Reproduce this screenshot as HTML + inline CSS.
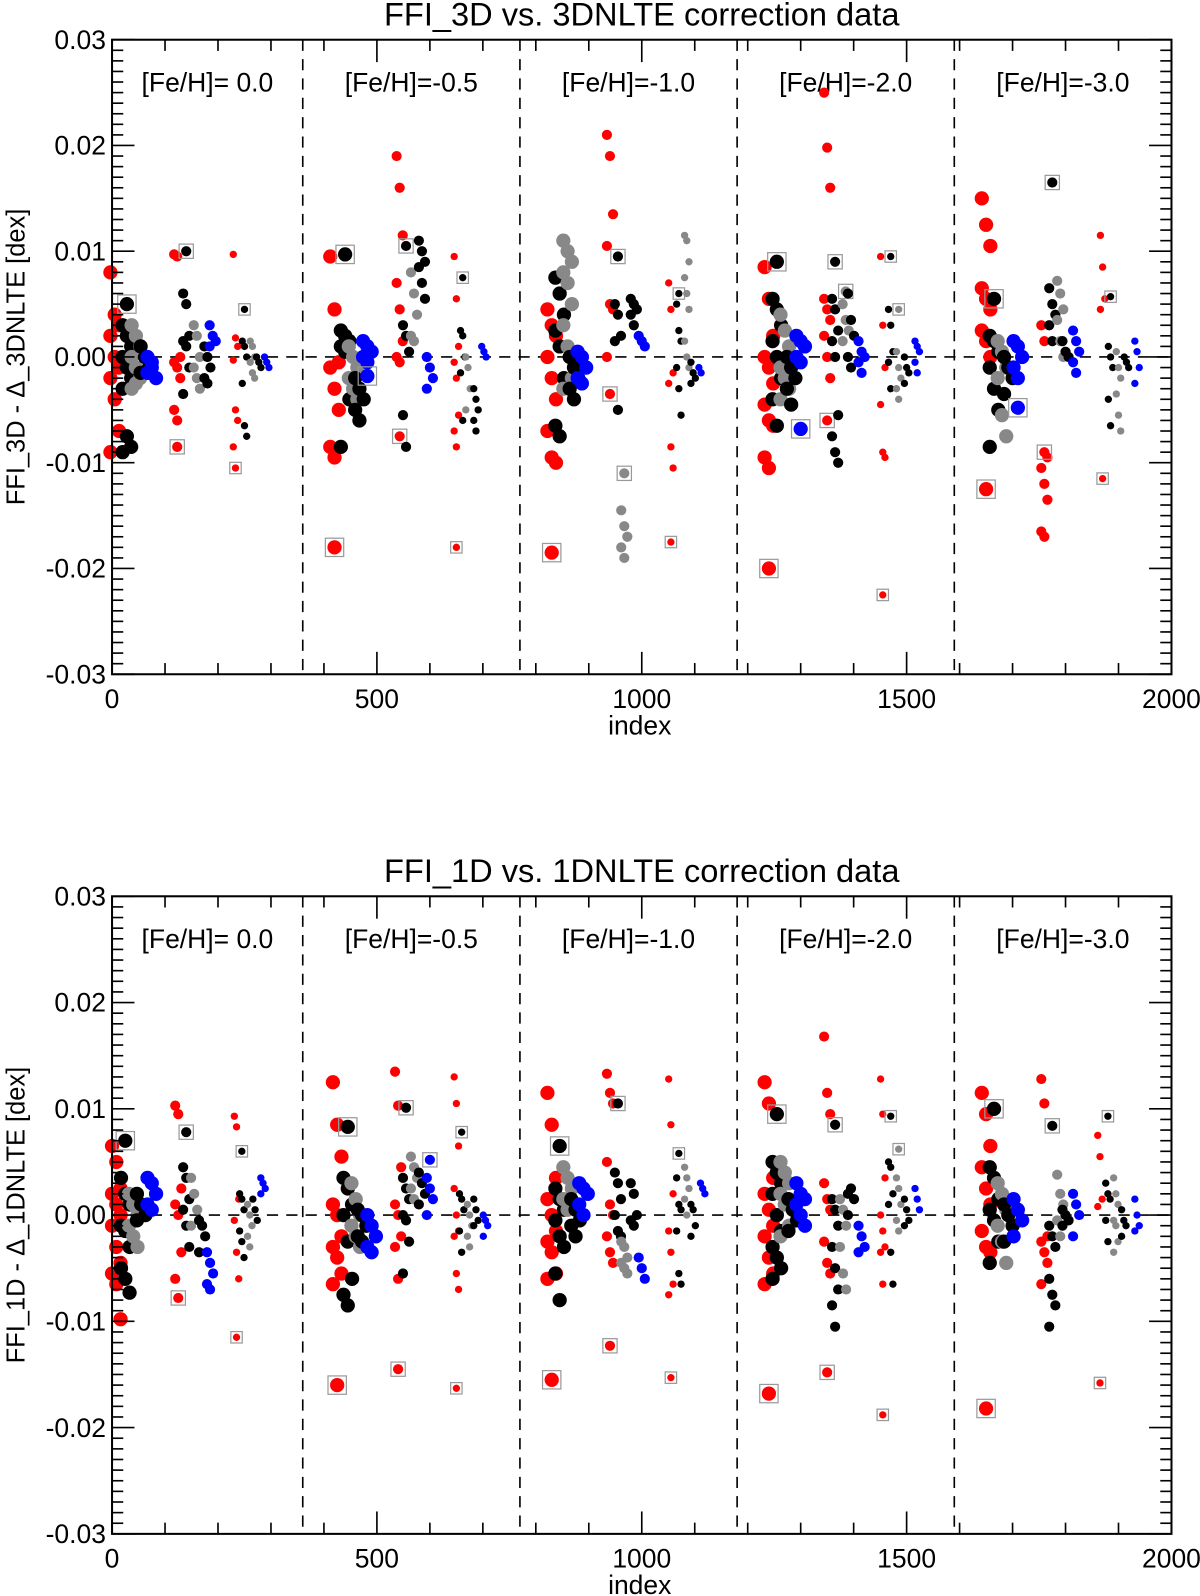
<!DOCTYPE html>
<html><head><meta charset="utf-8">
<style>
html,body{margin:0;padding:0;background:#fff;}
svg{display:block;font-family:"Liberation Sans",Arial,sans-serif;}
</style></head>
<body>
<svg id="chart" width="1200" height="1596" viewBox="0 0 1178 1567" preserveAspectRatio="none" xmlns="http://www.w3.org/2000/svg"></svg>
<script>
// ---- Data ----
const feLabels = ["[Fe/H]= 0.0","[Fe/H]=-0.5","[Fe/H]=-1.0","[Fe/H]=-2.0","[Fe/H]=-3.0"];
const dividers = [360, 770, 1180, 1590];
const yTicks = [0.03,0.02,0.01,0.00,-0.01,-0.02,-0.03];
const yTickLabels = ["0.03","0.02","0.01","0.00","-0.01","-0.02","-0.03"];
const xTicks = [0,500,1000,1500,2000];
const xTickLabels = ["0","500","1000","1500","2000"];
// cluster: [index, color, size(0 big,1 medium,2 small), values, squared value or null]
const clusters3D = [
 [5,'r',0,[0.008,0.004,0.003,0.002,0.0,-0.001,-0.002,-0.004,-0.007,-0.009],null],
 [28,'k',0,[0.003,0.002,0.001,0.0,-0.001,-0.002,-0.003,-0.0075,-0.0085,-0.009],0.005],
 [45,'g',0,[0.003,0.002,0.001,0.0,-0.001,-0.002,-0.003,-0.0025],null],
 [62,'k',0,[0.001,0.0,-0.001,-0.0015],null],
 [75,'b',0,[0.0,-0.001,-0.002,-0.0015,-0.0005],null],
 [123,'r',1,[0.0097,0.0095,0.0,-0.0005,-0.001,-0.002,-0.005,-0.006],-0.0085],
 [140,'k',1,[0.006,0.005,0.002,0.0015,0.001,-0.001,-0.0035],0.010],
 [160,'g',1,[0.003,0.002,0.0,-0.001,-0.002,-0.003],null],
 [180,'k',1,[0.001,0.0,-0.001,-0.002,-0.0025],null],
 [190,'b',1,[0.003,0.002,0.0015,0.001],null],
 [233,'r',2,[0.0097,0.0018,0.001,-0.0003,-0.005,-0.006,-0.0085],-0.0105],
 [250,'k',2,[0.0015,0.001,0.0,-0.0025,-0.0065,-0.0075],0.0045],
 [265,'g',2,[0.0015,0.001,0.0,-0.0005,-0.0015,-0.002],null],
 [277,'k',2,[0.0,-0.0005,-0.001],null],
 [292,'b',2,[0.0,-0.0005,-0.001],null],
 [420,'r',0,[0.0095,0.0045,-0.0005,-0.001,-0.003,-0.005,-0.0085,-0.0095],-0.018],
 [440,'k',0,[0.0025,0.002,0.0015,0.001,0.0005,-0.004,-0.0085],0.0097],
 [455,'g',0,[0.001,0.0,-0.001,-0.002,-0.003,-0.004],null],
 [467,'k',0,[-0.002,-0.003,-0.004,-0.005,-0.006],null],
 [482,'b',0,[0.0015,0.001,0.0005,0.0,-0.0005],-0.0018],
 [543,'r',1,[0.019,0.016,0.0115,0.007,0.0045,0.0015,0.0,-0.0005],-0.0075],
 [555,'k',1,[0.003,0.002,0.0005,-0.0055,-0.0085],0.0105],
 [570,'g',1,[0.008,0.006,0.004,0.002,0.0015],null],
 [585,'k',1,[0.011,0.010,0.009,0.0085,0.007,0.0055],null],
 [600,'b',1,[0.0,-0.001,-0.002,-0.003],null],
 [650,'r',2,[0.0095,0.0055,0.001,-0.0005,-0.002,-0.0055,-0.007,-0.0085],-0.018],
 [662,'k',2,[0.0025,0.002,0.0,-0.0015,-0.006],0.0075],
 [672,'g',2,[0.0,-0.001,-0.003,-0.005],null],
 [687,'k',2,[-0.003,-0.004,-0.005,-0.006,-0.007],null],
 [702,'b',2,[0.001,0.0005,0.0],null],
 [830,'r',0,[0.0045,0.003,0.002,0.0,-0.002,-0.004,-0.007,-0.0095,-0.010],-0.0185],
 [845,'k',0,[0.0075,0.006,0.004,0.0025,0.001,-0.002,-0.0065,-0.0075],null],
 [860,'g',0,[0.011,0.010,0.009,0.008,0.007,0.005,0.003,0.001,-0.002,-0.003],null],
 [872,'k',0,[0.0,-0.001,-0.002,-0.003,-0.004],null],
 [887,'b',0,[0.0005,0.0,-0.001,-0.002,-0.0025],null],
 [940,'r',1,[0.021,0.019,0.0135,0.0105,0.005,0.0045,0.0],-0.0035],
 [955,'k',1,[0.005,0.004,0.002,0.0015,-0.005],0.0095],
 [967,'g',1,[-0.0145,-0.016,-0.017,-0.018,-0.019],-0.011],
 [985,'k',1,[0.0055,0.005,0.0045,0.004,0.003],null],
 [1000,'b',1,[0.002,0.0015,0.001],null],
 [1055,'r',2,[0.007,0.0045,-0.0015,-0.0025,-0.0085,-0.0105],-0.0175],
 [1070,'k',2,[0.005,0.0025,0.0015,-0.001,-0.003,-0.0055],0.006],
 [1085,'g',2,[0.0115,0.011,0.009,0.0075,0.006,0.0045,0.0015,0.0,-0.001],null],
 [1097,'k',2,[-0.0005,-0.0015,-0.002,-0.0025],null],
 [1112,'b',2,[-0.001,-0.0015],null],
 [1240,'r',0,[0.0085,0.0055,0.002,0.0,-0.001,-0.0025,-0.0045,-0.006,-0.0065,-0.0095,-0.0105],-0.020],
 [1255,'k',0,[0.0055,0.0045,0.003,0.0015,0.0,-0.002,-0.004,-0.0065],0.009],
 [1270,'g',0,[0.004,0.0025,0.001,-0.001,-0.002,-0.003,-0.004],null],
 [1282,'k',0,[0.0,-0.001,-0.002,-0.003,-0.0045],null],
 [1300,'b',0,[0.002,0.0015,0.001,0.0,-0.0005],-0.0068],
 [1350,'r',1,[0.025,0.0198,0.016,0.0055,0.0045,0.0035,0.002,0.0,-0.002],-0.006],
 [1365,'k',1,[0.0055,0.0045,0.0025,0.0015,0.0,-0.0055,-0.0075,-0.009,-0.010],0.009],
 [1385,'g',1,[0.005,0.0035,0.0025,0.0015],0.0062],
 [1395,'k',1,[0.006,0.0035,0.002,0.0,-0.001],null],
 [1415,'b',1,[0.0015,0.0005,0.0,-0.0005,-0.0015],null],
 [1455,'r',2,[0.0095,0.003,-0.001,-0.0045,-0.009,-0.0095],-0.0225],
 [1470,'k',2,[0.0045,0.003,0.0005,-0.0005,-0.003],0.0095],
 [1485,'g',2,[0.0005,-0.001,-0.002,-0.003,-0.004],0.0045],
 [1500,'k',2,[0.0,-0.001,-0.0015,-0.0025],null],
 [1520,'b',2,[0.0015,0.001,0.0005,-0.0005,-0.0015],null],
 [1650,'r',0,[0.015,0.0125,0.0105,0.0065,0.0055,0.0045,0.0025,0.0015,0.0],-0.0125],
 [1665,'k',0,[0.002,0.0015,0.0005,-0.001,-0.003,-0.005,-0.0085],0.0055],
 [1680,'g',0,[0.0015,0.0005,-0.001,-0.002,-0.0055,-0.0075],null],
 [1692,'k',0,[0.0,-0.001,-0.002,-0.0035],null],
 [1710,'b',0,[0.0015,0.001,0.0,-0.001,-0.002],-0.0048],
 [1760,'r',1,[0.003,0.0015,-0.0095,-0.0105,-0.012,-0.0135,-0.0165,-0.017],-0.009],
 [1775,'k',1,[0.0065,0.005,0.004,0.003,0.0015],0.0165],
 [1790,'g',1,[0.0072,0.006,0.0045,0.0035,0.0015,0.0],null],
 [1800,'k',1,[0.0015,0.0005,0.0],null],
 [1820,'b',1,[0.0025,0.0015,0.0005,-0.0005,-0.0015],null],
 [1870,'r',2,[0.0115,0.0085,0.0055,0.0045],-0.0115],
 [1885,'k',2,[0.001,0.0,-0.001,-0.004,-0.0065],0.0057],
 [1900,'g',2,[0.0005,-0.001,-0.002,-0.0035,-0.0055,-0.007],null],
 [1915,'k',2,[0.0,-0.0005,-0.001],null],
 [1935,'b',2,[0.0015,0.0005,-0.001,-0.0025],null]
];
const clusters1D = [
 [8,'r',0,[0.0065,0.005,0.0025,0.002,0.001,0.0,-0.001,-0.003,-0.0045,-0.0055,-0.0065,-0.0098],null],
 [25,'k',0,[0.0035,0.002,0.001,-0.001,-0.0015,-0.003,-0.005,-0.006,-0.0073],0.007],
 [40,'g',0,[0.002,0.001,0.0,-0.001,-0.002,-0.003],null],
 [55,'k',0,[0.002,0.001,0.0,-0.0005],null],
 [75,'b',0,[0.0035,0.003,0.002,0.001,0.0005],null],
 [125,'r',1,[0.0103,0.0095,0.0025,0.001,0.0,-0.0035,-0.006],-0.0078],
 [140,'k',1,[0.0045,0.0035,0.0015,0.0005,-0.001,-0.003],0.0078],
 [155,'g',1,[0.0035,0.002,0.0005,-0.001],null],
 [170,'k',1,[-0.0005,-0.001,-0.002,-0.0035],null],
 [185,'b',1,[-0.0035,-0.0045,-0.0055,-0.0065,-0.007],null],
 [235,'r',2,[0.0093,0.0083,0.0015,-0.0005,-0.0035,-0.006],-0.0115],
 [245,'k',2,[0.002,0.0015,0.0005,-0.0015,-0.0025,-0.004],0.006],
 [260,'g',2,[0.001,0.0,-0.001,-0.002,-0.003],null],
 [270,'k',2,[0.0015,0.0005,-0.0005],null],
 [285,'b',2,[0.0035,0.003,0.0025,0.002],null],
 [425,'r',0,[0.0125,0.0085,0.0055,0.001,0.0,-0.002,-0.003,-0.004,-0.0055,-0.0065],-0.016],
 [445,'k',0,[0.0035,0.0025,0.001,0.0,-0.0025,-0.006,-0.0075,-0.0085],0.0083],
 [460,'g',0,[0.003,0.0015,0.0,-0.001,-0.002,-0.003],null],
 [472,'k',0,[0.0005,0.0,-0.001,-0.002,-0.0025],null],
 [490,'b',0,[0.0,-0.001,-0.002,-0.003,-0.0035],null],
 [540,'r',1,[0.0135,0.0103,0.0045,0.001,0.0,-0.002,-0.003,-0.006],-0.0145],
 [555,'k',1,[0.0035,0.0025,0.0015,0.0,-0.0005,-0.0025,-0.0055],0.0101],
 [570,'g',1,[0.0055,0.0045,0.0035,0.0025,0.0015],null],
 [585,'k',1,[0.004,0.003,0.002,0.001],null],
 [600,'b',1,[0.0035,0.0025,0.0015,0.0],0.0052],
 [650,'r',2,[0.013,0.0105,0.0065,0.0025,0.0,-0.0015,-0.002,-0.0055,-0.007],-0.0163],
 [660,'k',2,[0.002,0.0015,0.0005,-0.0015,-0.0035],0.0078],
 [675,'g',2,[0.001,0.0,-0.001,-0.002,-0.003],null],
 [687,'k',2,[0.0015,0.0005,-0.0005,-0.001],null],
 [705,'b',2,[0.0,-0.0005,-0.001,-0.002],null],
 [830,'r',0,[0.0115,0.0085,0.0035,0.0015,0.0,-0.0015,-0.0025,-0.0035,-0.0055,-0.006],-0.0155],
 [845,'k',0,[0.0025,0.0015,0.0005,-0.0005,-0.002,-0.003,-0.0055,-0.008],0.0065],
 [860,'g',0,[0.0045,0.0035,0.0025,0.0015,0.0005],null],
 [875,'k',0,[0.0015,0.0005,-0.0005,-0.001,-0.002],null],
 [890,'b',0,[0.003,0.0025,0.002,0.001,0.0],null],
 [940,'r',1,[0.0133,0.0115,0.0105,0.005,0.001,0.0,-0.002,-0.0035,-0.0045],-0.0123],
 [955,'k',1,[0.004,0.003,0.0015,0.0,-0.0015,-0.002],0.0105],
 [967,'g',1,[-0.0025,-0.003,-0.004,-0.0045,-0.005,-0.0055],null],
 [985,'k',1,[0.003,0.002,0.0,-0.0005,-0.001],null],
 [1000,'b',1,[-0.004,-0.005,-0.006],null],
 [1055,'r',2,[0.0128,0.0085,0.002,-0.0015,-0.0035,-0.0065,-0.0075],-0.0153],
 [1070,'k',2,[0.0035,0.001,0.0005,-0.0015,-0.0055,-0.0065],0.0058],
 [1085,'g',2,[0.0045,0.0035,0.0025,0.0015,0.0],null],
 [1097,'k',2,[0.001,0.0005,-0.001,-0.002],null],
 [1115,'b',2,[0.003,0.0025,0.002],null],
 [1240,'r',0,[0.0125,0.0105,0.0035,0.002,0.0005,-0.001,-0.002,-0.004,-0.0055,-0.0065],-0.0168],
 [1255,'k',0,[0.005,0.004,0.003,0.002,0.0,-0.0015,-0.003,-0.004,-0.005,-0.006],0.0095],
 [1270,'g',0,[0.005,0.004,0.003,0.002,0.001,-0.001,-0.002],null],
 [1285,'k',0,[0.0015,0.0005,-0.0005,-0.0015],null],
 [1300,'b',0,[0.003,0.002,0.0015,0.001,0.0,-0.001],null],
 [1350,'r',1,[0.0168,0.0115,0.0095,0.003,0.0015,0.0005,-0.0025,-0.0045,-0.0055],-0.0148],
 [1365,'k',1,[0.0015,0.0005,-0.001,-0.003,-0.005,-0.007,-0.0085,-0.0105],0.0085],
 [1380,'g',1,[0.0015,0.0005,-0.001,-0.003,-0.0055,-0.007],null],
 [1395,'k',1,[0.002,0.0025,0.0015,0.0],null],
 [1415,'b',1,[-0.001,-0.002,-0.003,-0.0035],null],
 [1455,'r',2,[0.0128,0.0095,0.0035,0.0,-0.0015,-0.003,-0.0035,-0.0065],-0.0188],
 [1470,'k',2,[0.005,0.0045,0.002,0.001,-0.0035,-0.0065],0.0093],
 [1485,'g',2,[0.0035,0.0025,0.001,-0.0005,-0.0015],0.0062],
 [1500,'k',2,[0.0015,0.0005,-0.0005,-0.001],null],
 [1520,'b',2,[0.0025,0.0015,0.0005],null],
 [1650,'r',0,[0.0115,0.0095,0.0065,0.0045,0.0025,0.001,-0.0015,-0.003,-0.0035],-0.0182],
 [1665,'k',0,[0.0045,0.0035,0.0015,0.0005,-0.0005,-0.0025,-0.0045],0.01],
 [1680,'g',0,[0.003,0.002,0.0005,-0.001,-0.0025,-0.0045],null],
 [1692,'k',0,[0.001,0.0,-0.001,-0.0025],null],
 [1710,'b',0,[0.0015,0.0005,-0.0005,-0.002],null],
 [1760,'r',1,[0.0128,0.0105,-0.002,-0.0025,-0.0035,-0.0045,-0.0065],null],
 [1775,'k',1,[-0.001,-0.002,-0.003,-0.006,-0.0075,-0.0085,-0.0105],0.0084],
 [1790,'g',1,[0.0038,0.002,0.001,-0.0005,-0.002],null],
 [1800,'k',1,[0.0005,0.0,-0.0005,-0.001],null],
 [1820,'b',1,[0.002,0.001,0.0,-0.002],null],
 [1865,'r',2,[0.0075,0.0055,0.0015,0.0008],-0.0158],
 [1880,'k',2,[0.003,0.002,0.0015,-0.0005,-0.0025],0.0093],
 [1895,'g',2,[0.0035,0.002,0.001,-0.0005,-0.001,-0.0025,-0.0035],null],
 [1910,'k',2,[0.0005,-0.0005,-0.001,-0.002],null],
 [1935,'b',2,[0.0015,0.0,-0.001,-0.0015],null]
];

// ---- Drawing ----
const NS = "http://www.w3.org/2000/svg";
const svg = document.getElementById('chart');
const COLORS = {r:'#ff0000',k:'#000000',g:'#888888',b:'#0000ff'};
const RADII = [7,5,3.6];
function mk(tag, attrs, parent){
  const e = document.createElementNS(NS, tag);
  for (const k in attrs) e.setAttribute(k, attrs[k]);
  (parent||svg).appendChild(e);
  return e;
}
function panel(cfg){
  const L=110, R=1150, T=cfg.top, B=cfg.bottom;
  const xs = v => L + (v/2000)*(R-L);
  const ys = v => T + (0.03 - v)/0.06*(B-T);
  const g = mk('g',{});
  
  
  const t = mk('text',{x:(L+R)/2,y:T-14,'text-anchor':'middle','font-size':32},g);
  t.textContent = cfg.title;
  
  
  dividers.forEach(d=>{
    const l = mk('line',{x1:xs(d),x2:xs(d),y1:T,y2:B,stroke:'#000','stroke-width':1.6,'stroke-dasharray':'11,8'},g);
    
    
  });
  const z = mk('line',{x1:L,x2:R,y1:ys(0),y2:ys(0),stroke:'#000','stroke-width':1.6,'stroke-dasharray':'11,8'},g);
  
  
  const bounds=[0].concat(dividers).concat([2000]);
  feLabels.forEach((s,i)=>{
    const tx = mk('text',{x:(xs(bounds[i])+xs(bounds[i+1]))/2,y:T+51,'text-anchor':'middle','font-size':26},g);
    tx.textContent = s;
    
    
  });
  cfg.data.forEach(c=>{
    const [x,col,sz,vals,sq]=c;
    const r = RADII[sz];
    vals.forEach((v,i)=>{
      const dx = ((i%3)-1)*r*0.6;
      const p = mk('circle',{cx:xs(x)+dx,cy:ys(v),r:r,fill:COLORS[col]},g);
      
      
    });
    if (sq!==null){
      const cx=xs(x), cy=ys(sq);
      const p = mk('circle',{cx:cx,cy:cy,r:r,fill:COLORS[col]},g);
      
      
      const s = mk('rect',{x:cx-r-2,y:cy-r-2,width:2*r+4,height:2*r+4,fill:'none',stroke:'#999','stroke-width':1.2},g);
      
      
    }
  });
  const f = mk('rect',{x:L,y:T,width:R-L,height:B-T,fill:'none',stroke:'#000','stroke-width':2},g);
  
  
  for(let i=-30;i<=30;i++){
    const v=i/1000, y=ys(v), len=(i%10===0)?22:11;
    const a=mk('line',{x1:L,x2:L+len,y1:y,y2:y,stroke:'#000','stroke-width':1.6},g);
    
    
    const b=mk('line',{x1:R,x2:R-len,y1:y,y2:y,stroke:'#000','stroke-width':1.6},g);
    
    
  }
  yTicks.forEach((v,i)=>{
    const tx=mk('text',{x:L-6,y:ys(v)+9,'text-anchor':'end','font-size':26},g);
    tx.textContent=yTickLabels[i];
    
    
  });
  for(let v=0;v<=2000;v+=100){
    const len=(v%500===0)?22:11;
    const a=mk('line',{x1:xs(v),x2:xs(v),y1:B,y2:B-len,stroke:'#000','stroke-width':1.6},g);
    
    
    const b=mk('line',{x1:xs(v),x2:xs(v),y1:T,y2:T+len,stroke:'#000','stroke-width':1.6},g);
    
    
  }
  xTicks.forEach((v,i)=>{
    const tx=mk('text',{x:xs(v),y:B+33,'text-anchor':'middle','font-size':26},g);
    tx.textContent=xTickLabels[i];
    
    
  });
  const xt=mk('text',{x:(L+R)/2 - 2,y:B+59,'text-anchor':'middle','font-size':26},g);
  xt.textContent='index';
  
  
  const yt=mk('text',{x:0,y:0,'text-anchor':'middle','font-size':25,transform:`translate(24,${(T+B)/2}) rotate(-90)`},g);
  yt.textContent=cfg.ytitle;
  
  
}
panel({name:'panel-3d',title:'FFI_3D vs. 3DNLTE correction data',ytitle:'FFI_3D - \u0394_3DNLTE [dex]',top:39,bottom:662,data:clusters3D});
panel({name:'panel-1d',title:'FFI_1D vs. 1DNLTE correction data',ytitle:'FFI_1D - \u0394_1DNLTE [dex]',top:880,bottom:1506,data:clusters1D});
</script>
</body></html>
